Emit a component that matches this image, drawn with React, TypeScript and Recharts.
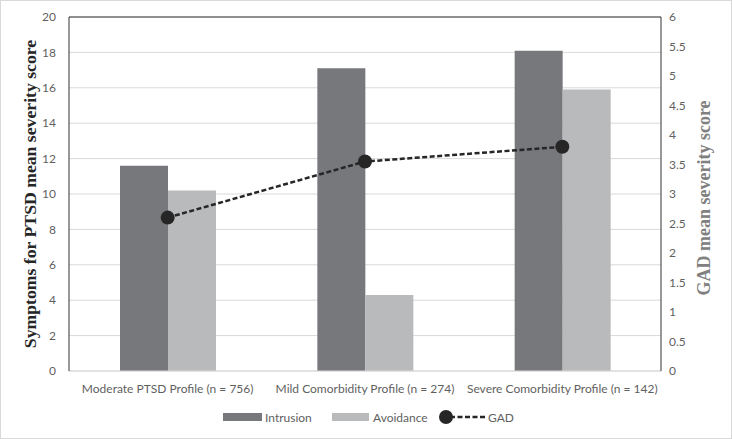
import React from 'react';
import { ComposedChart, Bar, Line, XAxis, YAxis, CartesianGrid, ReferenceLine } from 'recharts';

const profiles = [
  'Moderate PTSD Profile (n = 756)',
  'Mild Comorbidity Profile (n = 274)',
  'Severe Comorbidity Profile  (n = 142)',
];
const intrusion = [11.6, 17.1, 18.1];
const avoidance = [10.2, 4.3, 15.9];
const gad = [2.6, 3.55, 3.8];
const leftTicks = [0, 2, 4, 6, 8, 10, 12, 14, 16, 18, 20];
const rightTicks = [0, 0.5, 1, 1.5, 2, 2.5, 3, 3.5, 4, 4.5, 5, 5.5, 6];

const data = profiles.map((name, i) => ({
  name,
  intrusion: intrusion[i],
  avoidance: avoidance[i],
  gad: gad[i],
}));

const TICK_FONT = "Lato, 'Open Sans', sans-serif";
const tickStyle = { fill: '#5f5f5f', fontSize: 12, fontFamily: TICK_FONT };
const INTRUSION = '#77787b';
const AVOIDANCE = '#b9babc';
const GAD_COLOR = '#262626';

const LeftTitle = ({ viewBox }: any) => {
  const x = viewBox.x + 30;
  const y = viewBox.y + viewBox.height / 2;
  return (
    <text x={x} y={y} transform={`rotate(-90, ${x}, ${y})`} textAnchor="middle" dominantBaseline="central"
      style={{ fontFamily: "'Liberation Serif', serif", fontWeight: 'bold', fontSize: 17.7, fill: '#262626' }}>
      Symptoms for PTSD mean severity score
    </text>
  );
};

const RightTitle = ({ viewBox }: any) => {
  const x = viewBox.x + 43;
  const y = viewBox.y + viewBox.height / 2 + 4;
  return (
    <text x={x} y={y} transform={`rotate(-90, ${x}, ${y})`} textAnchor="middle" dominantBaseline="central"
      style={{ fontFamily: "'Liberation Serif', serif", fontWeight: 'bold', fontSize: 18, fill: '#808080' }}>
      GAD mean severity score
    </text>
  );
};

const legendText = { fontSize: 12, fill: '#5f5f5f', fontFamily: TICK_FONT };

const LegendRow = () => (
  <div style={{ position: 'absolute', left: 0, top: 409, width: 732, height: 16 }}>
    <svg width={732} height={16}>
      <rect x={223} y={4} width={39} height={8} fill={INTRUSION} />
      <text x={265} y={12.5} style={legendText}>Intrusion</text>
      <rect x={332} y={4} width={37} height={8} fill={AVOIDANCE} />
      <text x={373} y={12.5} style={legendText}>Avoidance</text>
      <line x1={450} y1={8} x2={485} y2={8} stroke={GAD_COLOR} strokeWidth={2.5} strokeDasharray="5 2.5" />
      <circle cx={446} cy={8} r={7} fill={GAD_COLOR} />
      <text x={488} y={12.5} style={legendText}>GAD</text>
    </svg>
  </div>
);

export default function App() {
  return (
    <div style={{ position: 'absolute', left: 0, top: 0, width: 732, height: 439, background: '#fff' }}>
      <ComposedChart
        width={732}
        height={439}
        data={data}
        margin={{ top: 17, right: 0, left: 0, bottom: 38 }}
        barGap={0}
        barSize={48}
      >
        <CartesianGrid vertical={false} stroke="#d9d9d9" yAxisId="left" />
        <XAxis
          dataKey="name"
          height={30}
          tickLine={false}
          axisLine={{ stroke: '#d9d9d9' }}
          tick={{ ...tickStyle, style: { whiteSpace: 'pre' } } as any}
          tickMargin={7}
          interval={0}
        />
        <YAxis
          yAxisId="left"
          width={69}
          domain={[0, 20]}
          ticks={leftTicks}
          tickLine={false}
          axisLine={{ stroke: '#333' }}
          tick={tickStyle}
          tickMargin={7}
          label={<LeftTitle />}
        />
        <YAxis
          yAxisId="right"
          orientation="right"
          width={71}
          domain={[0, 6]}
          ticks={rightTicks}
          tickLine={false}
          axisLine={{ stroke: '#333' }}
          tick={{ ...tickStyle, textAnchor: 'start' }}
          tickMargin={2}
          label={<RightTitle />}
        />
        <ReferenceLine yAxisId="left" y={20} stroke="#333" />
        <Bar yAxisId="left" dataKey="intrusion" name="Intrusion" fill={INTRUSION} isAnimationActive={false} />
        <Bar yAxisId="left" dataKey="avoidance" name="Avoidance" fill={AVOIDANCE} isAnimationActive={false} />
        <Line
          yAxisId="right"
          dataKey="gad"
          name="GAD"
          stroke={GAD_COLOR}
          strokeWidth={2.5}
          strokeDasharray="5 2.5"
          dot={{ r: 7, fill: GAD_COLOR, stroke: GAD_COLOR, strokeWidth: 0 }}
          activeDot={false}
          isAnimationActive={false}
        />
      </ComposedChart>
      <LegendRow />
      <div style={{ position: 'absolute', left: 0, top: 0, width: 730, height: 437, border: '1px solid #d9d9d9', pointerEvents: 'none' }} />
    </div>
  );
}
